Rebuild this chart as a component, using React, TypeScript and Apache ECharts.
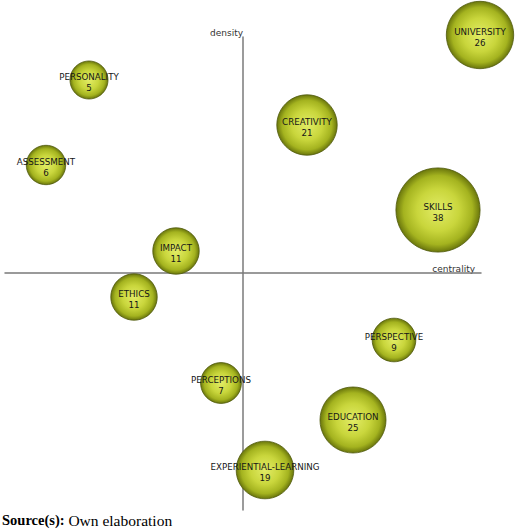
import React, { useEffect, useRef } from "react";
import * as echarts from "echarts";

const themes = [
  "UNIVERSITY",
  "PERSONALITY",
  "CREATIVITY",
  "ASSESSMENT",
  "SKILLS",
  "IMPACT",
  "ETHICS",
  "PERSPECTIVE",
  "PERCEPTIONS",
  "EDUCATION",
  "EXPERIENTIAL-LEARNING",
];
const centrality = [2.37, -1.54, 0.64, -1.97, 1.95, -0.67, -1.09, 1.51, -0.22, 1.1, 0.22];
const density = [2.38, 1.93, 1.48, 1.08, 0.63, 0.22, -0.24, -0.67, -1.1, -1.47, -1.97];
const frequency = [26, 5, 21, 6, 38, 11, 11, 9, 7, 25, 19];

const axisName = { x: "centrality", y: "density" };
const sourceLabel = "Source(s):";
const sourceText = " Own elaboration";

export default function App() {
  const ref = useRef<HTMLDivElement>(null);
  useEffect(() => {
    if (!ref.current) return;
    const chart = echarts.init(ref.current, undefined, { renderer: "svg" });
    const data = themes.map((n, i) => ({
      name: n,
      value: [centrality[i], density[i], frequency[i]],
    }));
    const bubbleFill = {
      type: "radial",
      x: 0.5,
      y: 0.5,
      r: 0.5,
      colorStops: [
        { offset: 0, color: "#e2ec66" },
        { offset: 0.5, color: "#c9d63c" },
        { offset: 0.82, color: "#a4b31f" },
        { offset: 1, color: "#6a760c" },
      ],
    };
    chart.setOption({
      animation: false,
      grid: { left: 5, right: 39, top: 37, bottom: 20, containLabel: false },
      xAxis: {
        type: "value",
        min: -2.38,
        max: 2.38,
        name: axisName.x,
        nameLocation: "end",
        nameGap: -6,
        nameTextStyle: {
          fontFamily: "DejaVu Sans",
          fontSize: 9,
          color: "#333",
          verticalAlign: "bottom",
          align: "right",
          padding: [0, 0, 0, 0],
        },
        axisLine: { onZero: true, lineStyle: { color: "#7a7a7a", width: 1.5 } },
        axisTick: { show: false },
        axisLabel: { show: false },
        splitLine: { show: false },
      },
      yAxis: {
        type: "value",
        min: -2.37,
        max: 2.36,
        name: axisName.y,
        nameLocation: "end",
        nameGap: 0,
        nameTextStyle: {
          fontFamily: "DejaVu Sans",
          fontSize: 9,
          color: "#333",
          align: "right",
          verticalAlign: "bottom",
          padding: [0, 0, 0, 0],
        },
        axisLine: { onZero: true, lineStyle: { color: "#7a7a7a", width: 1.5 } },
        axisTick: { show: false },
        axisLabel: { show: false },
        splitLine: { show: false },
      },
      series: [
        {
          type: "scatter",
          clip: false,
          data,
          symbolSize: (v: number[]) => 31 + 1.4 * v[2],
          itemStyle: {
            color: bubbleFill,
            borderColor: "#505a0e",
            borderWidth: 0.8,
            opacity: 1,
          },
          label: {
            show: true,
            position: "inside",
            offset: [0, 2],
            fontFamily: "DejaVu Sans",
            fontSize: 8.7,
            lineHeight: 11,
            color: "#161616",
            formatter: (p: any) => `${p.name}\n${p.value[2]}`,
          },
          emphasis: { disabled: true },
        },
      ],
      graphic: [
        {
          type: "text",
          left: 2,
          top: 512,
          style: {
            text: `{b|${sourceLabel}}{r|${sourceText}}`,
            rich: {
              b: { fontFamily: "Liberation Serif", fontSize: 14.5, fontWeight: "bold", fill: "#000" },
              r: { fontFamily: "Liberation Serif", fontSize: 15.5, fill: "#000" },
            },
          },
        },
      ],
    });
    return () => chart.dispose();
  }, []);
  return (
    <div
      ref={ref}
      style={{ position: "fixed", left: 0, top: 0, width: 520, height: 530, background: "#fff" }}
    />
  );
}
